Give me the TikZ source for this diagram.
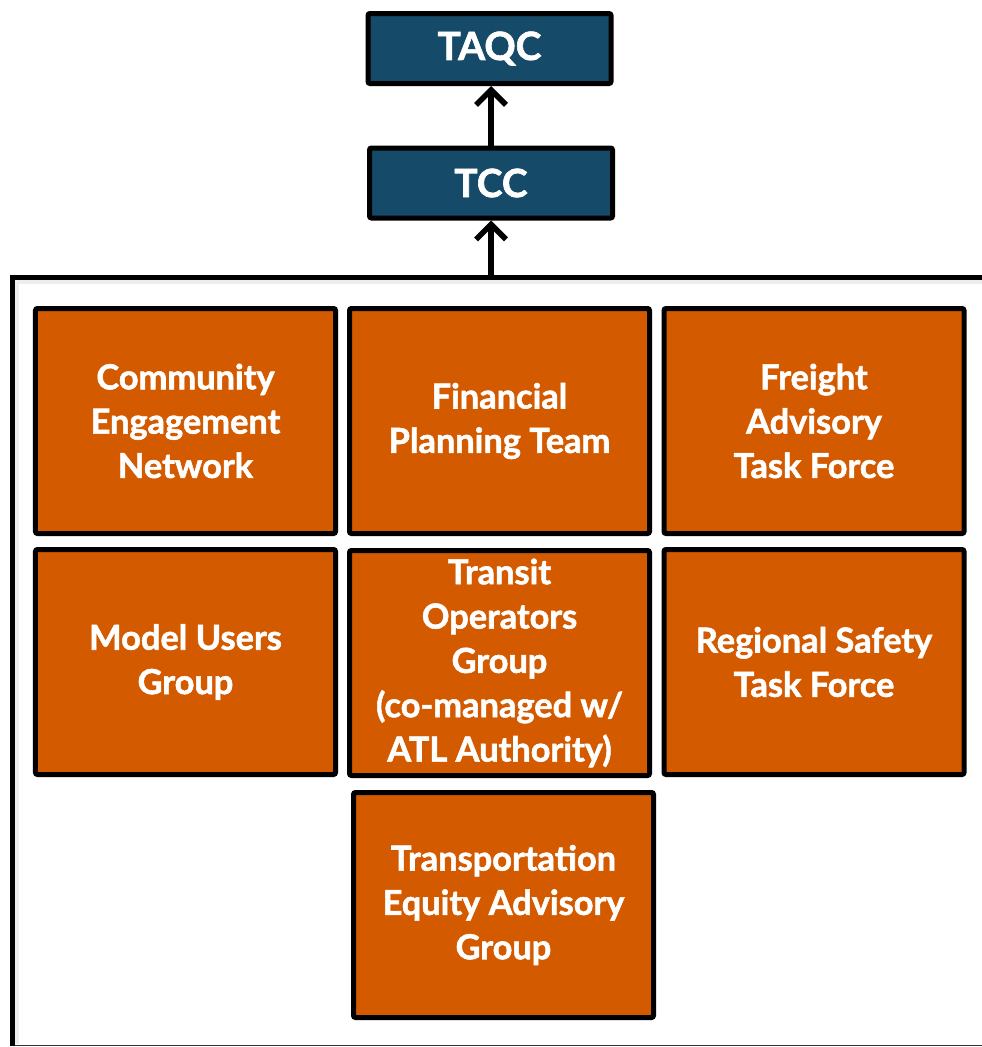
\documentclass[tikz,border=0pt]{standalone}
\usepackage{fontspec}
\setmainfont{Lato}[BoldFeatures={FakeBold=1.6}]
\usetikzlibrary{arrows.meta}
\definecolor{navy}{HTML}{154A69}
\definecolor{rust}{HTML}{D45A00}
\begin{document}
\begin{tikzpicture}[x=1bp,y=-1bp,
  topbox/.style={draw=black, line width=5bp, fill=navy, rounded corners=2bp,
    minimum width=243bp, minimum height=70bp, text=white,
    font=\fontsize{39}{44}\selectfont\bfseries},
  orbox/.style={draw=black, line width=5bp, fill=rust, rounded corners=2bp,
    minimum width=300bp, minimum height=225bp, text=white, align=center,
    font=\fontsize{34.5}{44.5}\selectfont\bfseries},
  link/.style={line width=5.5bp, -{Straight Barb[length=15bp, width=30bp, line width=5.5bp]}}]
\useasboundingbox (0,0) rectangle (982,1047);
% frame
\draw[line width=4bp, black!7] (985,282) -- (17,282) -- (17,1044);
\draw[line width=1.5bp, black!80] (12.5,1045.5) -- (985,1045.5);
\draw[line width=5bp, black] (985,277.5) -- (12.5,277.5) -- (12.5,1046);
\coordinate (ft) at (491,275);
% top boxes
\node[topbox] (taqc) at (489.5,48.5) {TAQC};
\node[topbox] (tcc) at (491,183) {TCC};
% working groups
\node[orbox] (cen) at (185.5,421) {Community\\Engagement\\Network};
\node[orbox] (fpt) at (499.5,421) {Financial\\Planning Team};
\node[orbox] (fatf) at (814,421) {Freight\\Advisory\\Task Force};
\node[orbox] (mug) at (185.5,662) {Model Users\\Group};
\node[orbox] (tog) at (499.5,663) {Transit\\Operators\\Group\\(co-managed w/\\ATL Authority)};
\node[orbox] (rstf) at (814,662) {Regional Safety\\Task Force};
\node[orbox] (teag) at (503.5,905) {Transportation\\Equity Advisory\\Group};
% connectors
\draw[link] (ft) -- (tcc.south);
\draw[link] (tcc.north) -- (taqc.south -| tcc.north);
\end{tikzpicture}
\end{document}
